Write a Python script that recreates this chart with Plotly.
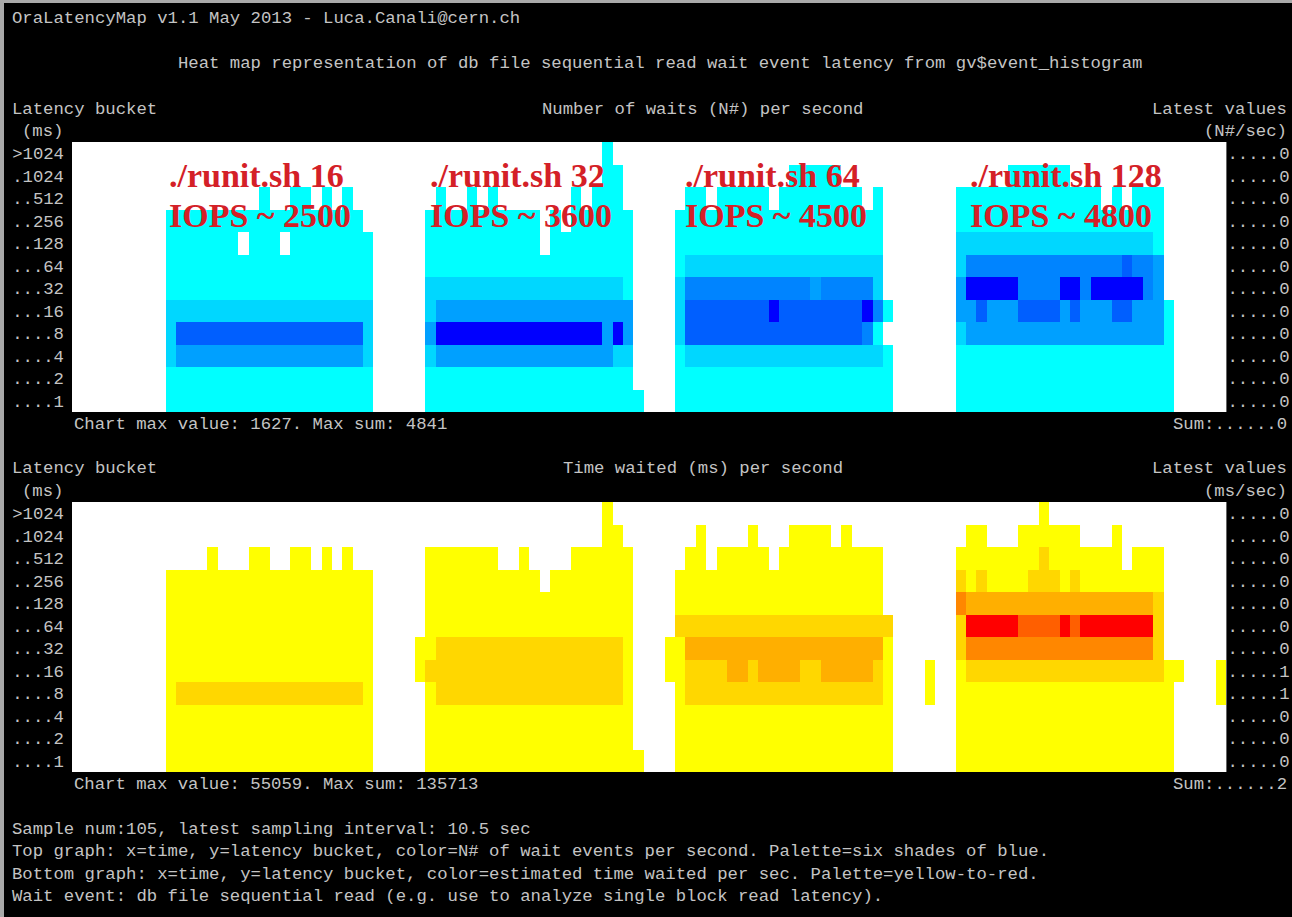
import plotly.graph_objects as go

# ---------------- data ----------------
bucket_labels = ['>1024', '.1024', '..512', '..256', '..128', '...64',
                 '...32', '...16', '....8', '....4', '....2', '....1']
time_samples = list(range(111))

top_latest = ['.....0'] * 12
bottom_latest = ['.....0', '.....0', '.....0', '.....0', '.....0', '.....0',
                 '.....0', '.....1', '.....1', '.....0', '.....0', '.....0']

# colour level per cell (0 = no waits), one string per latency bucket (top row first)
top_levels = [
    "0000000000 0000000000 0000000000 0000000000 0000000000 0100000000 0000000000 0000000000 0000000000 0000000000 0000000000 0",
    "0000000000 0000000000 0000000000 0000000000 0000000000 0110000000 0000000001 1111000000 0000000000 1111110000 0000000000 0",
    "0000000000 0000000010 0110101000 0000010010 1000000010 1110000001 1011111011 1111110100 0000011111 1111111110 1011100000 0",
    "0000000001 1111111111 1111111100 0000111111 1111101011 1111000011 1111111111 1111111100 0000011111 1111111111 1111100000 0",
    "0000000001 1111110111 0111111110 0000111111 1111101111 1111000011 1111111111 1111111100 0000022222 2222222222 2222100000 0",
    "0000000001 1111111111 1111111110 0000111111 1111111111 1111000012 2222222222 2222222200 0000024444 4444444444 4544300000 0",
    "0000000001 1111111111 1111111110 0000222222 2222222222 2221000024 4444444444 4344444200 0000036666 6444466466 6664300000 0",
    "0000000002 2222222222 2222222220 0000233333 3333333333 3333000025 5555555655 5555556410 0000033533 3555535333 5533310000 0",
    "0000000002 5555555555 5555555520 0000366666 6666666666 6363000025 5555555555 5555554100 0000023333 3333333333 3333310000 0",
    "0000000002 3333333333 3333333320 0000233333 3333333333 3322000012 2222222222 2222222210 0000011111 1111111111 1111110000 0",
    "0000000001 1111111111 1111111110 0000111111 1111111111 1111000011 1111111111 1111111110 0000011111 1111111111 1111110000 0",
    "0000000001 1111111111 1111111110 0000111111 1111111111 1111100011 1111111111 1111111110 0000011111 1111111111 1111110000 0",
]

bottom_levels = [
    "0000000000 0000000000 0000000000 0000000000 0000000000 0100000000 0000000000 0000000000 0000000000 0001000000 0000000000 0",
    "0000000000 0000000000 0000000000 0000000000 0000000000 0110000000 1000010001 1110100000 0000001100 0111111000 1000000000 0",
    "0000000000 0001000110 0110101000 0000111111 1001000011 1111000001 1011111011 1111111100 0000011111 1112111111 1011100000 0",
    "0000000001 1111111111 1111111110 0000111111 1111101111 1111000011 1111111111 1111111100 0000021211 1122212111 1111100000 0",
    "0000000001 1111111111 1111111110 0000111111 1111111111 1111000011 1111111111 1111111100 0000043333 3333333333 3333200000 0",
    "0000000001 1111111111 1111111110 0000111111 1111111111 1111000022 2222222222 2222222220 0000026666 6555565666 6666200000 0",
    "0000000001 1111111111 1111111110 0001122222 2222222222 2221000113 3333333333 3333333310 0000024444 4444444444 4444200000 0",
    "0000000001 1111111111 1111111110 0001222222 2222222222 2221000112 2223323333 2233333210 0010012222 2222222222 2222211000 1",
    "0000000001 2222222222 2222222210 0000122222 2222222222 2221000012 2222222222 2222222210 0010011111 1111111111 1111110000 1",
    "0000000001 1111111111 1111111110 0000111111 1111111111 1111000011 1111111111 1111111110 0000011111 1111111111 1111110000 0",
    "0000000001 1111111111 1111111110 0000111111 1111111111 1111000011 1111111111 1111111110 0000011111 1111111111 1111110000 0",
    "0000000001 1111111111 1111111110 0000111111 1111111111 1111100011 1111111111 1111111110 0000011111 1111111111 1111110000 0",
]

blue_palette = ['#ffffff', '#00ffff', '#00d7ff', '#00a0ff', '#0084ff', '#005fff', '#0000ff']
yellow_red_palette = ['#ffffff', '#ffff00', '#ffd700', '#ffaf00', '#ff8700', '#ff5f00', '#ff0000']

run_labels = ['./runit.sh 16', './runit.sh 32', './runit.sh 64', './runit.sh 128']
iops_labels = ['IOPS ~ 2500', 'IOPS ~ 3600', 'IOPS ~ 4500', 'IOPS ~ 4800']

# ---------------- helpers ----------------
W, H = 1292, 917
MONO = 'Liberation Mono'
TXT = '#c4c4c4'
FS = 17.3


def parse(rows):
    return [[int(c) for c in r.replace(' ', '')] for r in rows]


def discrete(pal):
    n = len(pal)
    cs = []
    for i, c in enumerate(pal):
        cs.append([i / n, c])
        cs.append([(i + 1) / n, c])
    return cs


def px(x):
    return x / W


def py(y):
    return 1 - y / H


def line_y(k):
    return py(19 + 22.5 * k)


def col_x(c):
    return px(9.6 + 10.4 * c)


rows_idx = list(range(12))
fig = go.Figure()
fig.add_trace(go.Heatmap(z=parse(top_levels), x=time_samples, y=rows_idx,
                         colorscale=discrete(blue_palette), zmin=-0.5, zmax=6.5,
                         showscale=False, hoverinfo='skip', xaxis='x', yaxis='y'))
fig.add_trace(go.Heatmap(z=parse(bottom_levels), x=time_samples, y=rows_idx,
                         colorscale=discrete(yellow_red_palette), zmin=-0.5, zmax=6.5,
                         showscale=False, hoverinfo='skip', xaxis='x2', yaxis='y2'))
# invisible traces to carry the right-hand "latest values" axes
fig.add_trace(go.Scatter(x=[0], y=[0], mode='markers', marker=dict(opacity=0),
                         hoverinfo='skip', showlegend=False, xaxis='x', yaxis='y3'))
fig.add_trace(go.Scatter(x=[0], y=[0], mode='markers', marker=dict(opacity=0),
                         hoverinfo='skip', showlegend=False, xaxis='x2', yaxis='y4'))

xdom = [px(72), px(1226.4)]
top_dom = [py(412), py(142)]
bot_dom = [py(772), py(502)]

xcommon = dict(range=[-0.5, 110.5], showticklabels=False, showgrid=False,
               zeroline=False, ticks='', fixedrange=True, domain=xdom, showline=False)
ycommon = dict(range=[11.5, -0.5], tickmode='array', tickvals=rows_idx,
               showgrid=False, zeroline=False, ticks='', fixedrange=True, showline=False,
               tickfont=dict(family=MONO, size=FS, color=TXT))

fig.update_layout(
    width=W, height=H, margin=dict(l=0, r=0, t=0, b=0),
    paper_bgcolor='black', plot_bgcolor='white', showlegend=False,
    xaxis=dict(**xcommon, anchor='y'),
    xaxis2=dict(**xcommon, anchor='y2'),
    yaxis=dict(**ycommon, domain=top_dom, anchor='x', ticktext=bucket_labels,
               side='left', ticklabelstandoff=7),
    yaxis2=dict(**ycommon, domain=bot_dom, anchor='x2', ticktext=bucket_labels,
                side='left', ticklabelstandoff=7),
    yaxis3=dict(**ycommon, overlaying='y', anchor='x', side='right',
                ticktext=top_latest, ticklabelstandoff=0),
    yaxis4=dict(**ycommon, overlaying='y2', anchor='x2', side='right',
                ticktext=bottom_latest, ticklabelstandoff=0),
)

ann = []


def term(text, c, k, anchor='left'):
    ann.append(dict(text=text, x=col_x(c), y=line_y(k), xref='paper', yref='paper',
                    xanchor=anchor, yanchor='middle', showarrow=False,
                    font=dict(family=MONO, size=FS, color=TXT)))


term('OraLatencyMap v1.1 May 2013 - Luca.Canali@cern.ch', 0, 0)
term('Heat map representation of db file sequential read wait event latency from gv$event_histogram', 16, 2)
term('Latency bucket', 0, 4)
term('(ms)', 1, 5)
term('Number of waits (N#) per second', 51, 4)
term('Latest values', 123, 4, 'right')
term('(N#/sec)', 123, 5, 'right')
term('Chart max value: 1627. Max sum: 4841', 6, 18)
term('Sum:......0', 123, 18, 'right')
term('Latency bucket', 0, 20)
term('(ms)', 1, 21)
term('Time waited (ms) per second', 53, 20)
term('Latest values', 123, 20, 'right')
term('(ms/sec)', 123, 21, 'right')
term('Chart max value: 55059. Max sum: 135713', 6, 34)
term('Sum:......2', 123, 34, 'right')
term('Sample num:105, latest sampling interval: 10.5 sec', 0, 36)
term('Top graph: x=time, y=latency bucket, color=N# of wait events per second. Palette=six shades of blue.', 0, 37)
term('Bottom graph: x=time, y=latency bucket, color=estimated time waited per sec. Palette=yellow-to-red.', 0, 38)
term('Wait event: db file sequential read (e.g. use to analyze single block read latency).', 0, 39)

red_x = [167, 428, 683, 968]
for rx, r1, r2 in zip(red_x, run_labels, iops_labels):
    for txt, yy in ((r1, 175), (r2, 215.5)):
        ann.append(dict(text='<b>' + txt + '</b>', x=px(rx), y=py(yy), xref='paper', yref='paper',
                        xanchor='left', yanchor='middle', showarrow=False,
                        font=dict(family='Liberation Serif', size=34, color='#d42027')))

fig.update_layout(annotations=ann)
# window frame: light grey on the left and top edges only
fig.add_shape(type='line', xref='paper', yref='paper', x0=0, x1=0, y0=0, y1=1,
              line=dict(color='#a9a9a9', width=8), layer='above')
fig.add_shape(type='line', xref='paper', yref='paper', x0=0, x1=1, y0=1, y1=1,
              line=dict(color='#a9a9a9', width=6), layer='above')

fig.write_html('out.html', config={'displayModeBar': False},
               post_script="document.body.style.margin='0';document.body.style.padding='0';"
                           "document.body.style.overflow='hidden';")
